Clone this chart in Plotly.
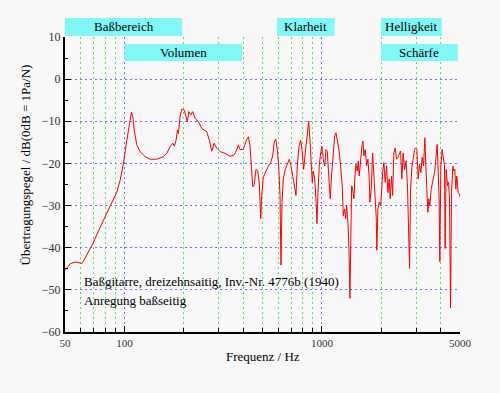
import math
import plotly.graph_objects as go

# Frequency response
freq_hz = [
    50, 53.1, 56.3, 60.9, 62, 64.5, 69.7, 75.4, 81.5, 86.4, 91.5, 95.1, 98.8,
    102.8, 106, 108.5, 110.3, 112, 115.5, 120, 127.3, 134.9, 145.8, 157.5,
    163.9, 170.3, 175.7, 179, 182.6, 185.4, 187.6, 191.3, 195.1, 200.4, 205.1,
    208.3, 211.7, 216.7, 221.8, 227.9, 236.8, 246.4, 256, 261.1, 269.2, 276.8,
    284.3, 293.5, 304.9, 323.2, 342.5, 358.9, 370.3, 377.3, 384.8,
    399.8, 412.6, 424, 432.4, 441.1, 446.2, 453, 463.7, 473, 481.9, 489.8,
    495.5, 504.8, 521, 535.1, 550.2, 563.1, 573.7, 583.2, 594.1, 603.9, 613.2,
    620.3, 627.6, 637.2, 652.2, 670.6, 683.2, 694.5, 715.8, 730.1, 738.7,
    750.1, 765.1, 780.4, 792.2, 808.1, 823.3, 842.7, 856.6, 869.7, 883.1,
    893.3, 903.6, 918.7, 932.6, 943.4, 954.6, 969, 984.9, 1000, 1015, 1032,
    1048, 1064, 1085, 1102, 1115, 1137, 1160, 1177, 1195, 1219, 1243, 1267,
    1282, 1302, 1318, 1333, 1354, 1370, 1386, 1402, 1413, 1430, 1452, 1469,
    1486, 1509, 1526, 1544, 1570, 1594, 1612, 1631, 1656, 1683, 1709, 1735,
    1749, 1776, 1805, 1832, 1860, 1882, 1897, 1920, 1949, 1981, 2004, 2028,
    2059, 2090, 2125, 2157, 2190, 2216, 2252, 2279, 2313, 2349, 2388, 2424,
    2460, 2501, 2539, 2578, 2620, 2670, 2713, 2745, 2777, 2810, 2853, 2896,
    2944, 2979, 3024, 3070, 3121, 3168, 3216, 3269, 3319, 3358, 3397, 3437,
    3477, 3518, 3572, 3643, 3716, 3786, 3830, 3875, 3920, 3952, 3999, 4060,
    4108, 4175, 4204, 4253, 4323, 4374, 4425, 4477, 4530, 4599, 4653, 4708,
    4762, 4818, 4891, 4972, 5000,
]
level_db = [
    -45.4, -43.8, -43.4, -43.7, -43.2, -41.8, -38.7, -35.1, -31.9, -29.5, -26.8, -24.0, -20.0,
    -14.5, -10.1, -7.9, -8.9, -12.1, -15.6, -17.2, -18.4, -19.0, -19.0, -18.4,
    -17.6, -16.0, -15.2, -15.9, -14.5, -12.1, -12.9, -8.9, -7.1, -7.3, -8.9,
    -10.1, -7.7, -8.5, -7.7, -9.3, -10.1, -11.7, -12.2, -12.5, -14.5, -17.1,
    -15.2, -16.4, -17.2, -17.6, -18.3, -18.0, -16.8, -15.6, -16.7,
    -16.7, -14.7, -13.7, -15.9, -21.4, -25.5, -25.3, -21.4, -21.8, -24.9, -33.1,
    -27.6, -23.3, -21.8, -20.6, -19.8, -18.2, -14.9, -14.2, -16.7, -20.6, -27.6,
    -44.1, -29.2, -23.7, -21.4, -19.8, -19.0, -20.2, -24.5, -26.1, -27.6,
    -20.6, -15.9, -14.5, -16.7, -21.4, -17.5, -12.0, -10.0, -14.3, -20.6,
    -24.5, -21.8, -23.7, -28.4, -34.3, -26.9, -20.6, -17.5, -15.9, -19.0, -20.6,
    -16.7, -17.1, -23.7, -28.4, -23.7, -18.2, -13.5, -12.7, -14.3, -16.7, -20.6, -25.3,
    -32.4, -30.8, -33.1, -30.0, -33.9, -40.2, -52.0, -36.3, -25.3, -26.1, -28.4, -23.0,
    -20.2, -21.8, -19.4, -23.0, -18.2, -15.9, -14.7, -18.2, -16.7, -20.6, -19.0, -23.7,
    -29.2, -26.1, -17.5, -23.0, -28.4, -32.7, -40.6, -30.8, -29.2, -30.0, -26.9, -22.2,
    -19.8, -24.5, -20.6, -26.9, -23.7, -28.4, -23.0, -27.6, -17.5, -16.3, -19.0, -18.6,
    -17.8, -17.1, -23.7, -17.5, -21.4, -19.4, -26.1, -37.8, -44.9, -26.1, -21.0, -19.0,
    -16.7, -16.3, -16.7, -23.7, -20.2, -22.2, -18.6, -20.6, -13.9, -20.6, -26.9, -31.6,
    -28.4, -30.0, -26.1, -24.5, -22.2, -18.2, -15.5, -21.4, -28.4, -43.3, -20.6, -16.7,
    -18.2, -20.6, -40.2, -21.4, -25.3, -24.5, -28.4, -54.3, -26.9, -20.6, -21.8, -21.4,
    -26.1, -23.0, -26.9, -27.3, -28.0,
]

x_tick_vals = [50, 100, 1000, 5000]
x_minor_vals = [60, 70, 80, 90, 200, 300, 400, 500, 600, 700, 800, 900, 2000, 3000, 4000]
x_grid_major = [100, 1000]
y_tick_vals = [10, 0, -10, -20, -30, -40, -50, -60]
y_minor_vals = [5, -5, -15, -25, -35, -45, -55]
y_grid_vals = [0, -10, -20, -30, -40, -50]

band_labels = ["Baßbereich", "Volumen", "Klarheit", "Helligkeit", "Schärfe"]
band_lo_hz = [50, 100, 592, 1990, 1990]
band_hi_hz = [196, 394, 1158, 4046, 4874]
band_row = [0, 1, 0, 0, 1]

note_lines = ["Baßgitarre, dreizehnsaitig, Inv.-Nr. 4776b (1940)", "Anregung baßseitig"]

SERIF = "Liberation Serif"
BG = "#f8f8f8"
GREEN = "#5ee05e"
BLUE = "#7272f2"
CYAN = "#80f8f8"

xr = [math.log10(50), math.log10(5000)]
yr = [-60, 10]

fig = go.Figure()
fig.add_trace(go.Scatter(x=freq_hz, y=level_db, mode="lines",
                         line=dict(color="#ff0000", width=1), showlegend=False,
                         hoverinfo="skip"))
fig.add_trace(go.Scatter(x=[], y=[], xaxis="x2", yaxis="y2", showlegend=False))

row_y = {0: (1.0034, 1.0644), 1: (0.9186, 0.9763)}
shapes = []
annotations = []
for lab, lo, hi, r in zip(band_labels, band_lo_hz, band_hi_hz, band_row):
    y0, y1 = row_y[r]
    shapes.append(dict(type="rect", xref="x", yref="paper", x0=lo, x1=hi, y0=y0, y1=y1,
                       fillcolor=CYAN, line=dict(width=0), layer="above"))
    annotations.append(dict(xref="x", yref="paper",
                            x=(math.log10(lo) + math.log10(hi)) / 2, y=(y0 + y1) / 2,
                            text=lab, showarrow=False, xanchor="center", yanchor="middle",
                            font=dict(family=SERIF, size=13, color="black")))

annotations += [
    dict(xref="paper", yref="paper", x=0.043, y=0.1695, text=note_lines[0], showarrow=False,
         xanchor="left", yanchor="middle", font=dict(family=SERIF, size=13, color="black")),
    dict(xref="paper", yref="paper", x=0.043, y=0.106, text=note_lines[1], showarrow=False,
         xanchor="left", yanchor="middle", font=dict(family=SERIF, size=13, color="black")),
    dict(xref="paper", yref="paper", x=0.5, y=-0.0847, text="Frequenz / Hz", showarrow=False,
         xanchor="center", yanchor="middle", font=dict(family=SERIF, size=13, color="black")),
    dict(xref="paper", yref="paper", x=-0.1013, y=0.568, text="Übertragungspegel / dB(0dB = 1Pa/N)",
         showarrow=False, textangle=-90, xanchor="center", yanchor="middle",
         font=dict(family=SERIF, size=13, color="black")),
]

fig.update_layout(
    width=500, height=393,
    margin=dict(l=65, r=40, t=37, b=61),
    paper_bgcolor=BG, plot_bgcolor=BG,
    showlegend=False,
    shapes=shapes,
    annotations=annotations,
    xaxis=dict(type="log", range=xr, tickmode="array", tickvals=x_tick_vals,
               ticktext=[str(v) for v in x_tick_vals], ticks="inside", ticklen=6,
               tickwidth=1, tickcolor="black", showline=True, linecolor="black",
               linewidth=2, showgrid=False, zeroline=False,
               tickfont=dict(family=SERIF, size=11, color="#333"),
               minor=dict(tickmode="array", tickvals=x_minor_vals, ticks="inside",
                          ticklen=4, tickwidth=1, tickcolor="black", showgrid=True,
                          gridcolor=GREEN, gridwidth=1, griddash="2px,3px")),
    yaxis=dict(range=yr, tickmode="array", tickvals=y_tick_vals, ticks="inside",
               ticklen=6, tickwidth=1, tickcolor="black", showline=True,
               linecolor="black", linewidth=2, showgrid=False, zeroline=False,
               tickfont=dict(family=SERIF, size=12, color="#333"),
               minor=dict(tickmode="array", tickvals=y_minor_vals, ticks="inside",
                          ticklen=3, tickwidth=1, tickcolor="black", showgrid=False)),
    xaxis2=dict(type="log", range=xr, overlaying="x", anchor="y2", tickmode="array",
                tickvals=x_grid_major, showticklabels=False, ticks="", showline=False,
                zeroline=False, showgrid=True, gridcolor=BLUE, gridwidth=1,
                griddash="2px,3px"),
    yaxis2=dict(range=yr, overlaying="y", anchor="x2", tickmode="array",
                tickvals=y_grid_vals, showticklabels=False, ticks="", showline=False,
                zeroline=False, showgrid=True, gridcolor=BLUE, gridwidth=1,
                griddash="2px,3px"),
)

fig.write_html(
    "out.html",
    config={"displayModeBar": False},
    post_script="document.body.style.margin='0px';document.body.style.background='" + BG + "';",
)
